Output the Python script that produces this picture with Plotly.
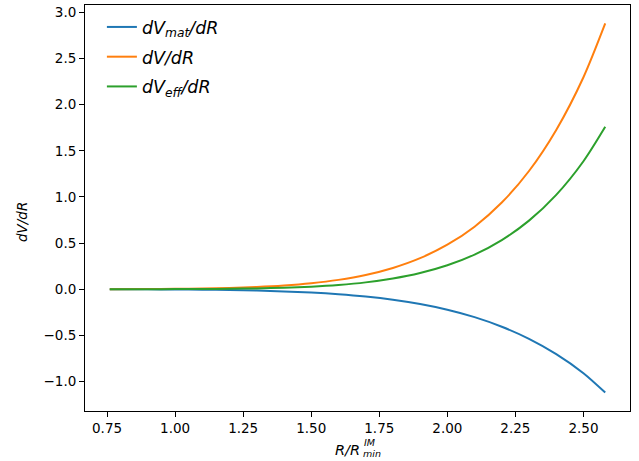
import plotly.graph_objects as go

R = [0.76, 0.9, 1.0, 1.1, 1.2, 1.3, 1.4, 1.5, 1.6, 1.7, 1.8, 1.9, 2.0, 2.1, 2.2, 2.3, 2.4, 2.5, 2.58]
dV_mat = [-0.0005, -0.0015, -0.0028, -0.0052, -0.0089, -0.0148, -0.0236, -0.0364, -0.0547, -0.0801,
          -0.1148, -0.1614, -0.223, -0.303, -0.4067, -0.538, -0.7035, -0.910, -1.12]
dV = [0.0006, 0.0018, 0.0038, 0.0073, 0.0135, 0.0236, 0.0397, 0.0643, 0.101, 0.154,
      0.2305, 0.3365, 0.482, 0.6776, 0.939, 1.281, 1.726, 2.297, 2.88]
dV_eff = [0.0001, 0.0003, 0.0010, 0.0021, 0.0046, 0.0088, 0.0161, 0.0279, 0.0463, 0.0739,
          0.1157, 0.1751, 0.259, 0.3746, 0.5323, 0.743, 1.0225, 1.387, 1.76]

names = ["<i>dV</i><sub><i>mat</i></sub><i>/dR</i>", "<i>dV/dR</i>", "<i>dV</i><sub><i>eff</i></sub><i>/dR</i>"]
colors = ["#1f77b4", "#ff7f0e", "#2ca02c"]

fig = go.Figure()
for i, (ys, nm, c) in enumerate(zip([dV_mat, dV, dV_eff], names, colors)):
    fig.add_trace(go.Scatter(x=R, y=ys, mode="lines", name=nm, legendgroup=f"g{i}",
                             line=dict(color=c, width=2, shape="spline", smoothing=0.8)))

font = dict(family="DejaVu Sans", size=13.5, color="black")
axis_common = dict(showline=True, linecolor="black", linewidth=1, mirror=True,
                   ticks="outside", ticklen=5, tickwidth=1, tickcolor="black",
                   showgrid=False, zeroline=False, tickfont=font, automargin=False)

fig.update_layout(
    width=639, height=461,
    margin=dict(l=85, r=9, t=5, b=50),
    paper_bgcolor="white", plot_bgcolor="white",
    font=font,
    xaxis=dict(range=[0.669, 2.671], tickvals=[0.75, 1.0, 1.25, 1.5, 1.75, 2.0, 2.25, 2.5],
               ticktext=["0.75", "1.00", "1.25", "1.50", "1.75", "2.00", "2.25", "2.50"],
               **axis_common),
    yaxis=dict(range=[-1.32, 3.08], tickvals=[-1.0, -0.5, 0.0, 0.5, 1.0, 1.5, 2.0, 2.5, 3.0],
               ticktext=["\u22121.0", "\u22120.5", "0.0", "0.5", "1.0", "1.5", "2.0", "2.5", "3.0"],
               **axis_common),
    legend=dict(x=0.031, y=0.99, xanchor="left", yanchor="top", bgcolor="rgba(255,255,255,0.8)",
                font=dict(family="DejaVu Sans", size=17.5), tracegroupgap=4, traceorder="grouped"),
    showlegend=True,
    annotations=[
        dict(text="<i>dV/dR</i>", textangle=-90, xref="paper", yref="paper",
             x=(22 - 85) / 545, y=(411 - 222) / 406, showarrow=False,
             font=dict(family="DejaVu Sans", size=13.5, color="black"), xanchor="center", yanchor="middle"),
        dict(text="<i>R/R</i>", xref="paper", yref="paper", x=(362 - 85) / 545, y=-(450 - 411) / 406,
             showarrow=False, font=dict(family="DejaVu Sans", size=14.5, color="black"),
             xanchor="right", yanchor="middle"),
        dict(text="<i>IM</i>", xref="paper", yref="paper", x=(362 - 85) / 545, y=-(442 - 411) / 406,
             showarrow=False, font=dict(family="DejaVu Sans", size=9.5, color="black"),
             xanchor="left", yanchor="middle"),
        dict(text="<i>min</i>", xref="paper", yref="paper", x=(361 - 85) / 545, y=-(453 - 411) / 406,
             showarrow=False, font=dict(family="DejaVu Sans", size=9.5, color="black"),
             xanchor="left", yanchor="middle"),
    ],
)

fig.write_html("out.html", config={"displayModeBar": False},
               post_script="document.body.style.margin='0';")
